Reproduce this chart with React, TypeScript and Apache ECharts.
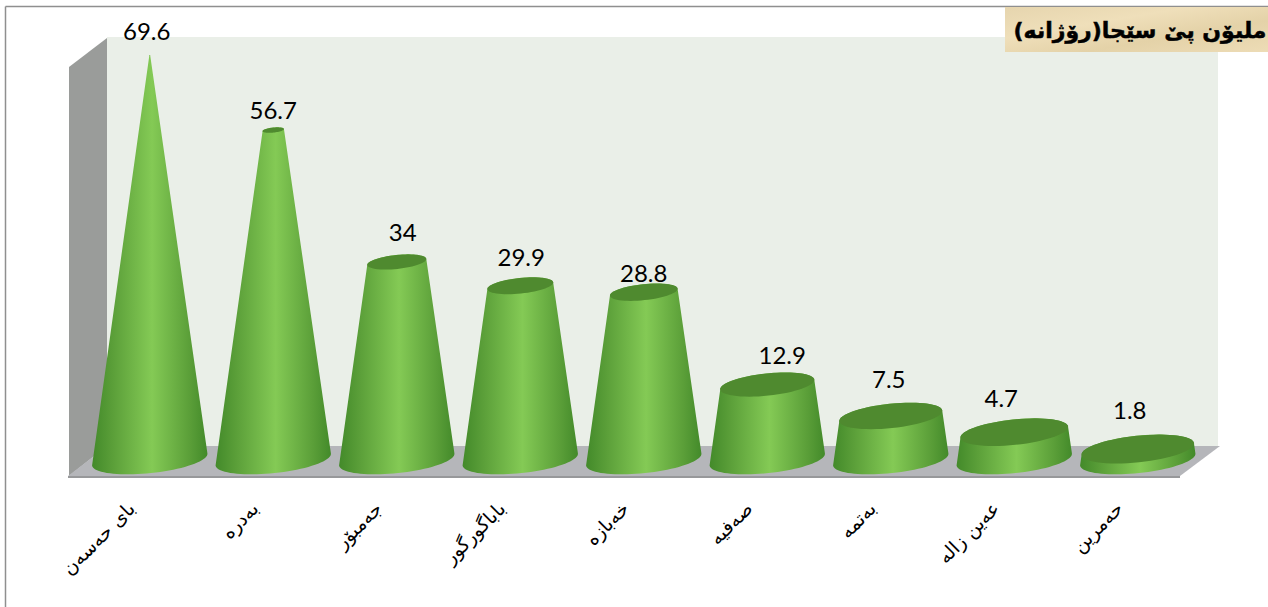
import React, { useEffect, useRef } from "react";
import * as echarts from "echarts";

const categories = ["بای حەسەن", "بەدرە", "جەمبۆر", "باباگورگور", "خەبازە", "صەفیە", "بەتمە", "عەین زالە", "حەمرین"];
const values = [69.6, 56.7, 34, 29.9, 28.8, 12.9, 7.5, 4.7, 1.8];
const chartTitle = "ملیۆن پێ سێجا(رۆژانە)";

// label nudges relative to each cone's top (layout only)
const labelDx = [-3, 0, 6, 1, 0, 15, -2, -13, -8];
const labelDy = [-25, -21, -30, -29, -20, -30, -37, -35, -40];

const W = 1268;
const H = 607;
const baseR = 58;
const squash = 0.235;
const tilt = (-6 * Math.PI) / 180;
const coneMax = Math.max(...values);

function arc(cx: number, cy: number, r: number, from: number, to: number, n = 40) {
  const pts: number[][] = [];
  const ry = r * squash;
  for (let i = 0; i <= n; i++) {
    const t = from + ((to - from) * i) / n;
    const ex = r * Math.cos(t);
    const ey = ry * Math.sin(t);
    pts.push([cx + ex * Math.cos(tilt) - ey * Math.sin(tilt), cy + ex * Math.sin(tilt) + ey * Math.cos(tilt)]);
  }
  return pts;
}

const bodyFill = new echarts.graphic.LinearGradient(0, 0, 1, 0, [
  { offset: 0, color: "#438a2a" },
  { offset: 0.18, color: "#5b9f39" },
  { offset: 0.52, color: "#84ca55" },
  { offset: 0.85, color: "#5a9e38" },
  { offset: 1, color: "#438a2a" },
]);

function renderCone(params: any, api: any) {
  const v = api.value(1);
  const [cx, topY] = api.coord([api.value(0), v]);
  const [, baseY] = api.coord([api.value(0), 0]);
  const r = Math.max(baseR * (1 - v / coneMax), 0.4);
  const body = [...arc(cx, baseY, baseR, Math.PI, 0), ...arc(cx, topY, r, 0, -Math.PI)];
  const i = params.dataIndex;
  return {
    type: "group",
    children: [
      { type: "polygon", shape: { points: body }, style: { fill: bodyFill } },
      { type: "polygon", shape: { points: arc(cx, topY, r, 0, Math.PI * 2, 60) }, style: { fill: "#4f8a2f" } },
      {
        type: "text",
        x: cx + labelDx[i],
        y: topY + labelDy[i],
        style: {
          text: String(v),
          fill: "#000",
          font: "24px Lato, sans-serif",
          align: "center",
          verticalAlign: "middle",
        },
      },
    ],
  };
}

const option = {
  animation: false,
  backgroundColor: "#ffffff",
  grid: { left: 88, width: 1111.5, top: 52.8, height: 406.7 },
  xAxis: {
    type: "category",
    data: categories,
    axisLine: { show: false },
    axisTick: { show: false },
    splitLine: { show: false },
    axisLabel: {
      interval: 0,
      rotate: 45,
      margin: 27,
      padding: [0, 26, 0, 0],
      color: "#000",
      fontFamily: '"DejaVu Sans", sans-serif',
      fontSize: 19,
      hideOverlap: false,
    },
  },
  yAxis: { type: "value", min: 0, max: 70, show: false },
  graphic: [
    { type: "line", z: -1, shape: { x1: 5.5, y1: 6.5, x2: 1268, y2: 6.5 }, style: { stroke: "#8f8f8f", lineWidth: 1.5 } },
    { type: "line", z: -1, shape: { x1: 5.5, y1: 6.5, x2: 5.5, y2: 607 }, style: { stroke: "#8f8f8f", lineWidth: 1.5 } },
    { type: "polygon", z: -1, shape: { points: [[107, 37], [1218, 37], [1218, 446], [107, 446]] }, style: { fill: "#eaefe8" } },
    { type: "polygon", z: -1, shape: { points: [[69, 67], [107, 38], [107, 446], [69, 476]] }, style: { fill: "#9a9c9a" } },
    { type: "polygon", z: -1, shape: { points: [[68, 476], [107, 446], [1220, 446], [1180, 476]] }, style: { fill: "#b5b6ba" } },
    { type: "rect", z: -1, shape: { x: 68, y: 476, width: 1112, height: 2 }, style: { fill: "#97989a" } },
    {
      type: "rect",
      z: 10,
      shape: { x: 1005, y: 7, width: 263, height: 45 },
      style: {
        fill: new echarts.graphic.LinearGradient(0, 0, 1, 1, [
          { offset: 0, color: "#e6d5ae" },
          { offset: 0.35, color: "#efdfba" },
          { offset: 0.65, color: "#e4d2a8" },
          { offset: 1, color: "#eddcb6" },
        ]),
      },
    },
    {
      type: "text",
      z: 11,
      x: 1140,
      y: 30,
      style: {
        text: chartTitle,
        fill: "#000",
        stroke: "#000",
        lineWidth: 0.5,
        font: 'bold 22px "DejaVu Sans", sans-serif',
        align: "center",
        verticalAlign: "middle",
      },
    },
  ],
  series: [
    {
      type: "custom",
      renderItem: renderCone,
      encode: { x: 0, y: 1 },
      data: values.map((v, i) => [i, v]),
      clip: false,
      silent: true,
    },
  ],
};

export default function App() {
  const ref = useRef<HTMLDivElement>(null);
  useEffect(() => {
    const chart = echarts.init(ref.current!, undefined, { renderer: "svg" });
    chart.setOption(option as any);
    return () => chart.dispose();
  }, []);
  return <div ref={ref} style={{ position: "absolute", left: 0, top: 0, width: W, height: H }} />;
}
